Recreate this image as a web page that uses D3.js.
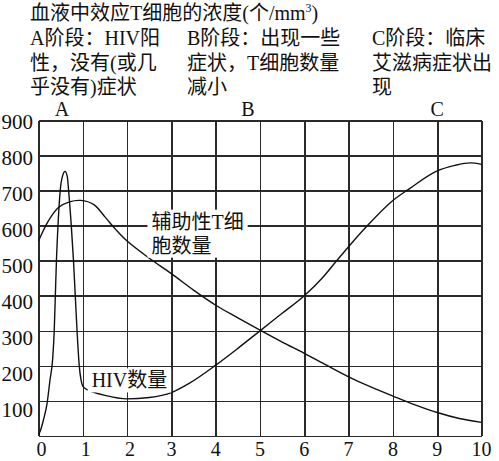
<!DOCTYPE html>
<html>
<head>
<meta charset="utf-8">
<script src="https://cdn.jsdelivr.net/npm/d3@7"></script>
<style>
  body { margin: 0; background: #fff; }
  svg text { font-family: "Liberation Serif", "Noto Sans CJK SC", serif; fill: #111; }
</style>
</head>
<body>
<div id="chart" style="width:499px;height:461px"></div>
<script>
// values
var xTickValues = [0, 1, 2, 3, 4, 5, 6, 7, 8, 9, 10];
var yTickValues = [100, 200, 300, 400, 500, 600, 700, 800, 900];

// HIV数量
var hivX = [0, 0.05, 0.11, 0.19, 0.26, 0.32, 0.355, 0.38, 0.405, 0.44, 0.49, 0.55, 0.6, 0.65, 0.68, 0.74, 0.79, 0.83, 0.87, 0.92, 0.96, 0.99, 1.03, 1.1, 1.2, 1.5, 2, 2.5, 3, 3.4, 4, 4.5, 5, 5.5, 6, 6.4, 6.73, 7.0, 7.43, 8, 8.37, 9, 9.4, 9.75, 10];
var hivY = [3, 18, 45, 90, 160, 220, 300, 400, 500, 600, 700, 745, 755, 740, 700, 600, 500, 400, 300, 200, 160, 145, 138, 132, 127, 116, 106, 110, 124, 150, 202, 250, 300, 350, 400, 450, 500, 540, 601, 672, 705, 756, 772, 779, 775];

// 辅助性T细胞数量
var tX = [0, 0.23, 0.45, 0.7, 0.95, 1.25, 1.5, 1.75, 2, 2.5, 3, 3.5, 4, 4.5, 5, 5.5, 6, 6.5, 7, 7.5, 8, 8.5, 9, 9.5, 10];
var tY = [556, 615, 652, 668, 672, 660, 625, 588, 556, 507, 463, 416, 373, 337, 302, 268, 236, 202, 169, 140, 114, 89, 67, 50, 39];

var stageNames = ["A", "B", "C"];
var stageAt = [0.53, 4.73, 9.0];
var stageNotes = [
  ["A阶段：HIV阳", "性，没有(或几", "乎没有)症状"],
  ["B阶段：出现一些", "症状，T细胞数量", "减小"],
  ["C阶段：临床", "艾滋病症状出", "现"]
];
var noteLeft = [30, 187, 372];

var renderDiv = document.getElementById("chart");
var margin = { top: 120.5, right: 17.5, bottom: 25, left: 38.5 },
    width = 499 - margin.left - margin.right,
    height = 461 - margin.top - margin.bottom;

var x = d3.scaleLinear().domain([0, 10]).range([0, width]);
var y = d3.scaleLinear().domain([0, 900]).range([height, 0]);
// the printed y numbers sit a little lower than their grid lines
var yLab = d3.scaleLinear().domain([100, 900]).range([height - 26, 1]);

var svgRoot = d3.select(renderDiv).append("svg")
    .attr("width", 499)
    .attr("height", 461);

// title and stage notes
var title = svgRoot.append("text")
    .attr("x", 30).attr("y", 20)
    .style("font-size", "20px");
title.append("tspan").text("血液中效应T细胞的浓度(个/mm");
title.append("tspan").attr("dy", -8).style("font-size", "12px").text("3");
title.append("tspan").attr("dy", 8).text(")");

stageNotes.forEach(function (lines, i) {
  svgRoot.append("g").selectAll("text")
    .data(lines)
    .enter().append("text")
    .attr("x", noteLeft[i])
    .attr("y", function (d, j) { return 45 + j * 24.5; })
    .style("font-size", "20px")
    .text(function (d) { return d; });
});

var svg = svgRoot.append("g")
    .attr("transform", "translate(" + margin.left + "," + margin.top + ")");

// grid
svg.append("g")
    .attr("class", "grid")
    .attr("transform", "translate(0," + height + ")")
    .call(d3.axisBottom(x).tickValues(xTickValues).tickSize(-height).tickFormat(""));
svg.append("g")
    .attr("class", "grid")
    .call(d3.axisLeft(y).tickValues([0].concat(yTickValues)).tickSize(-width).tickFormat(""));
svg.selectAll(".grid .domain").remove();
svg.selectAll(".grid line")
    .style("stroke", "#2a2a2a")
    .style("stroke-width", 1.6)
    .style("shape-rendering", "crispEdges");

// stage letters above the plot
svg.selectAll("text.stage")
    .data(stageNames)
    .enter().append("text")
    .attr("class", "stage")
    .attr("x", function (d, i) { return x(stageAt[i]); })
    .attr("y", -5)
    .attr("text-anchor", "middle")
    .style("font-size", "20px")
    .text(function (d) { return d; });

// tick numbers
svg.selectAll("text.ylab")
    .data(yTickValues)
    .enter().append("text")
    .attr("class", "ylab")
    .attr("x", -5.5)
    .attr("y", function (d) { return yLab(d); })
    .attr("dy", "0.35em")
    .attr("text-anchor", "end")
    .style("font-size", "21px")
    .text(function (d) { return d; });

svg.selectAll("text.xlab")
    .data(xTickValues)
    .enter().append("text")
    .attr("class", "xlab")
    .attr("x", function (d) { return x(d) + (d < 3 ? 3 : 0); })
    .attr("y", height + 20)
    .attr("text-anchor", "middle")
    .style("font-size", "20px")
    .text(function (d) { return d; });

// curves
var tLine = d3.line()
    .x(function (d) { return x(d[0]); })
    .y(function (d) { return y(d[1]); })
    .curve(d3.curveCatmullRom.alpha(0.5));

var hivLine = d3.line()
    .x(function (d) { return x(d[0]); })
    .y(function (d) { return y(d[1]); })
    .curve(d3.curveMonotoneX);

svg.append("path")
    .datum(d3.zip(tX, tY))
    .attr("fill", "none")
    .attr("stroke", "#111")
    .attr("stroke-width", 1.4)
    .attr("d", tLine);

svg.append("path")
    .datum(d3.zip(hivX, hivY))
    .attr("fill", "none")
    .attr("stroke", "#111")
    .attr("stroke-width", 1.4)
    .attr("d", hivLine);

// curve labels on white boxes
function boxedLabel(lines, x0, y0) {
  var g = svg.append("g");
  var bg = g.append("rect").attr("fill", "#fff");
  g.selectAll("text")
      .data(lines)
      .enter().append("text")
      .attr("x", x0)
      .attr("y", function (d, i) { return y0 + i * 24; })
      .style("font-size", "20px")
      .text(function (d) { return d; });
  var b = g.node().getBBox();
  bg.attr("x", b.x - 4).attr("y", b.y - 1).attr("width", b.width + 8).attr("height", b.height + 2);
}

boxedLabel(["辅助性T细", "胞数量"], x(2.55), y(600) + 3);
boxedLabel(["HIV数量"], x(1.2), y(130) - 3);
</script>
</body>
</html>
